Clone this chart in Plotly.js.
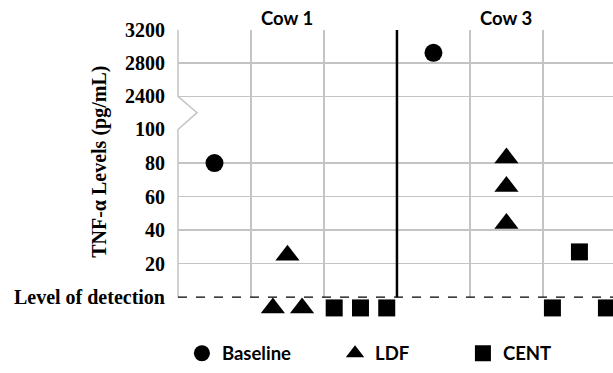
<!DOCTYPE html>
<html>
<head>
<meta charset="utf-8">
<script src="https://cdn.plot.ly/plotly-3.0.1.min.js"></script>
<style>html,body{margin:0;padding:0;background:#fff;}#chart{width:613px;height:373px;}</style>
</head>
<body>
<div id="chart"></div>
<script>
// ---------------- DATA ----------------
const cows = ["Cow 1", "Cow 3"];
const treatments = ["Baseline", "LDF", "CENT"];
// TNF-α (pg/mL); null = below the level of detection
const baselineVals = [[80], [2925]];
const ldfVals = [[25, null, null], [83, 66, 44]];
const centVals = [[null, null, null], [27, null, null]];
const lowerTickVals = [20, 40, 60, 80, 100];
const lowerTickText = ["20", "40", "60", "80", "100"];
const upperTickVals = [2400, 2800, 3200];
const upperTickText = ["2400", "2800", "3200"];
const detectionLabel = "Level of detection";
const yTitle = "TNF-α Levels (pg/mL)";

// ---------------- STYLE / LAYOUT CONFIG ----------------
const valuesByTreatment = [baselineVals, ldfVals, centVals];
const symbols = ["circle", "triangle-up", "square"];
const sizes = [18, 21, 17];
const breakAt = 100;          // values above go on the upper axis
const ndPlotY = -6.5;         // position inside the "below detection" strip
const ndSpread = {"Cow 1|LDF": 0.2, "Cow 1|CENT": 0.36, "Cow 3|CENT": 0.37};
const legendX = [0.009, 0.361, 0.655];
const serif = {family: "Liberation Serif, Times New Roman, serif", size: 20, color: "#000", weight: 700};
const sans = {family: "Lato, Open Sans, sans-serif", size: 18.5, color: "#000", weight: 700};
const gridCol = "#c4c4c4";

function ndOffsets(n, s) {
  if (n === 1) return [0];
  if (n === 2) return [-s, s];
  const out = [];
  for (let i = 0; i < n; i++) out.push(-s + 2 * s * i / (n - 1));
  return out;
}

const traces = [];
treatments.forEach((t, ti) => {
  const groups = {low: {x: [], y: []}, nd: {x: [], y: []}, up: {x: [], y: []}};
  cows.forEach((c, ci) => {
    const center = ci * 3 + ti + 0.5;
    const vals = valuesByTreatment[ti][ci];
    const nd = vals.filter(v => v === null).length;
    const offs = ndOffsets(nd, ndSpread[c + "|" + t] || 0.37);
    let k = 0;
    vals.forEach(v => {
      if (v === null) { groups.nd.x.push(center + offs[k++]); groups.nd.y.push(ndPlotY); }
      else if (v > breakAt) { groups.up.x.push(center); groups.up.y.push(v); }
      else { groups.low.x.push(center); groups.low.y.push(v); }
    });
  });
  const legendName = ti === 0 ? "legend" : "legend" + (ti + 1);
  const axes = {low: ["x", "y"], nd: ["x3", "y3"], up: ["x2", "y2"]};
  let shown = false;
  ["low", "nd", "up"].forEach(g => {
    if (!groups[g].x.length) return;
    traces.push({type: "scatter", mode: "markers", name: t, cliponaxis: false,
      x: groups[g].x, y: groups[g].y, xaxis: axes[g][0], yaxis: axes[g][1],
      marker: {symbol: symbols[ti], size: sizes[ti], color: "#000"},
      legend: legendName, showlegend: !shown, hoverinfo: "x+y"});
    shown = true;
  });
});

// plot area 30..320 px: strip (below detection) | lower 0..100 | upper 2000..3200
const zeroY = 0.069;
const split = 0.6534;
const xBase = {range: [0, 5.96], showticklabels: false, ticks: "", zeroline: false,
  showline: false, fixedrange: true, domain: [0, 1]};
const xGrid = {tickvals: [1, 2, 4, 5], showgrid: true, gridcolor: gridCol, gridwidth: 1.5};

function legendCfg(i) {
  return {x: legendX[i], y: -0.128, xanchor: "left", yanchor: "middle", orientation: "h",
    bgcolor: "rgba(0,0,0,0)", borderwidth: 0, font: sans, itemclick: false};
}

const layout = {
  width: 613, height: 373,
  margin: {l: 178, r: 0, t: 30, b: 53},
  paper_bgcolor: "#fff", plot_bgcolor: "rgba(0,0,0,0)",
  xaxis: Object.assign({}, xBase, xGrid, {anchor: "y"}),
  xaxis2: Object.assign({}, xBase, xGrid, {anchor: "y2", matches: "x"}),
  xaxis3: Object.assign({}, xBase, {anchor: "y3", matches: "x", showgrid: false}),
  yaxis: {domain: [zeroY, split], range: [0, 100], tickvals: lowerTickVals, ticktext: lowerTickText,
    tickfont: serif, showgrid: true, gridcolor: gridCol, gridwidth: 1.5, zeroline: false,
    showline: false, ticks: "", ticklabelstandoff: 12, fixedrange: true},
  yaxis2: {domain: [split, 1], range: [2000, 3200], tickvals: upperTickVals, ticktext: upperTickText,
    tickfont: serif, showgrid: true, gridcolor: gridCol, gridwidth: 1.5, zeroline: false,
    showline: false, ticks: "", ticklabelstandoff: 12, fixedrange: true},
  yaxis3: {domain: [0, zeroY], range: [-12, 0], tickvals: [0], ticktext: [detectionLabel],
    tickfont: serif, showgrid: false, zeroline: false, showline: false, ticks: "",
    ticklabelstandoff: 12, fixedrange: true},
  showlegend: true,
  legend: legendCfg(0), legend2: legendCfg(1), legend3: legendCfg(2),
  shapes: [
    // left border with axis-break notch
    {type: "path", xref: "paper", yref: "paper",
     path: "M0,1 L0,0.769 L0.0437,0.712 L0," + split + " L0," + zeroY,
     line: {color: "#c4c4c4", width: 1.5}},
    // level of detection
    {type: "line", xref: "paper", yref: "paper", x0: 0, x1: 1, y0: zeroY, y1: zeroY,
     line: {color: "#000", width: 1.3, dash: "dash"}},
    // cow separator
    {type: "line", xref: "x", yref: "paper", x0: 3, x1: 3, y0: zeroY, y1: 1,
     line: {color: "#000", width: 2.5}}
  ],
  annotations: [
    ...cows.map((c, ci) => ({text: c, xref: "x", yref: "paper", x: ci * 3 + 1.5, y: 1,
      xanchor: "center", yanchor: "bottom", yshift: -1, showarrow: false, font: sans})),
    {text: yTitle, xref: "paper", yref: "paper", x: -0.179, y: 0.541, textangle: -90,
     xanchor: "center", yanchor: "middle", showarrow: false, font: serif}
  ]
};

Plotly.newPlot("chart", traces, layout, {staticPlot: true, displayModeBar: false});
</script>
</body>
</html>
